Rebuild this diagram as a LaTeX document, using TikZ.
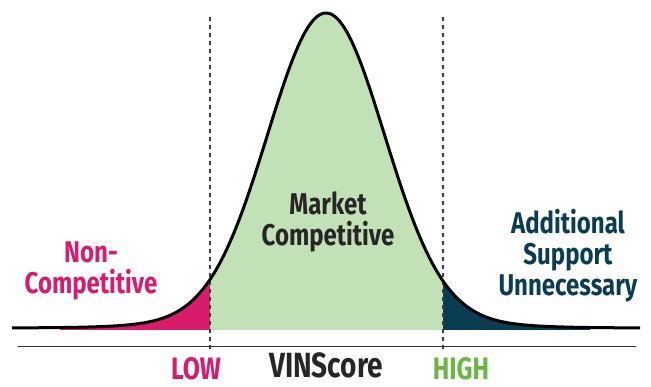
\documentclass[tikz,border=0pt]{standalone}
\usepackage{fontspec}
\setmainfont{Fira Sans}[FakeStretch=0.8]
\usepackage{tikz}
\usetikzlibrary{positioning}

\definecolor{lowpink}{HTML}{D81B6B}
\definecolor{highteal}{HTML}{0A3D51}
\definecolor{midgreen}{HTML}{C3E1B6}
\definecolor{highgreen}{HTML}{6BB544}
\definecolor{inktext}{HTML}{262626}

\begin{document}
\begin{tikzpicture}[
						x=1pt, y=-1pt,
						% Define styles for the labels and lines
						band label/.style={font=\bfseries\fontsize{30}{31}\selectfont, align=center, inner sep=0pt},
						axis label/.style={font=\bfseries\fontsize{31}{31}\selectfont, anchor=base, inner sep=0pt},
						cut line/.style={dash pattern=on 4.5pt off 3.5pt, line width=1.1pt, draw=black!75},
						declare function={bell(\x)=315*(0.95*exp(-0.5*((\x-326)/58)^2)+0.05*exp(-0.5*((\x-326)/100)^2));}
						]
						\useasboundingbox (0,0) rectangle (651,387);
						
						% --- Filled areas under the curve ---
						\fill[lowpink] plot[domain=60:210, samples=80, smooth] (\x,{328-bell(\x)}) -- (210,330) -- (60,330) -- cycle;
						\fill[midgreen] plot[domain=210:443, samples=120, smooth] (\x,{328-bell(\x)}) -- (443,330) -- (210,330) -- cycle;
						\fill[highteal] plot[domain=443:590, samples=80, smooth] (\x,{328-bell(\x)}) -- (590,330) -- (443,330) -- cycle;
						
						% --- Cut-off lines and axis ---
						\coordinate (lowtop) at (210,17);
						\coordinate (lowbot) at (210,352);
						\coordinate (hightop) at (443,17);
						\coordinate (highbot) at (443,352);
						\coordinate (axisleft) at (18,347);
						\coordinate (axisright) at (636,347);
						\draw[cut line] (lowtop) -- (lowbot);
						\draw[cut line] (hightop) -- (highbot);
						\draw[line width=1pt, draw=black!80] (axisleft) -- (axisright);
						
						% --- The curve ---
						\draw[line width=3pt, line join=round] plot[domain=12:640, samples=250, smooth] (\x,{328-bell(\x)});
						
						% --- Labels ---
						\node[band label, text=lowpink] (noncomp) at (91,271) {Non-\\Competitive};
						\node[band label, text=inktext] (marketcomp) at (328,222) {Market\\Competitive};
						\node[band label, text=highteal] (support) at (568,256) {Additional\\Support\\Unnecessary};
						\node[axis label, text=lowpink] (low) at (196,380) {LOW};
						\node[axis label, text=inktext, font=\bfseries\fontsize{35}{35}\selectfont] (vinscore) at (326,378) {VINScore};
						\node[axis label, text=highgreen] (high) at (461,380) {HIGH};
					\end{tikzpicture}
\end{document}
